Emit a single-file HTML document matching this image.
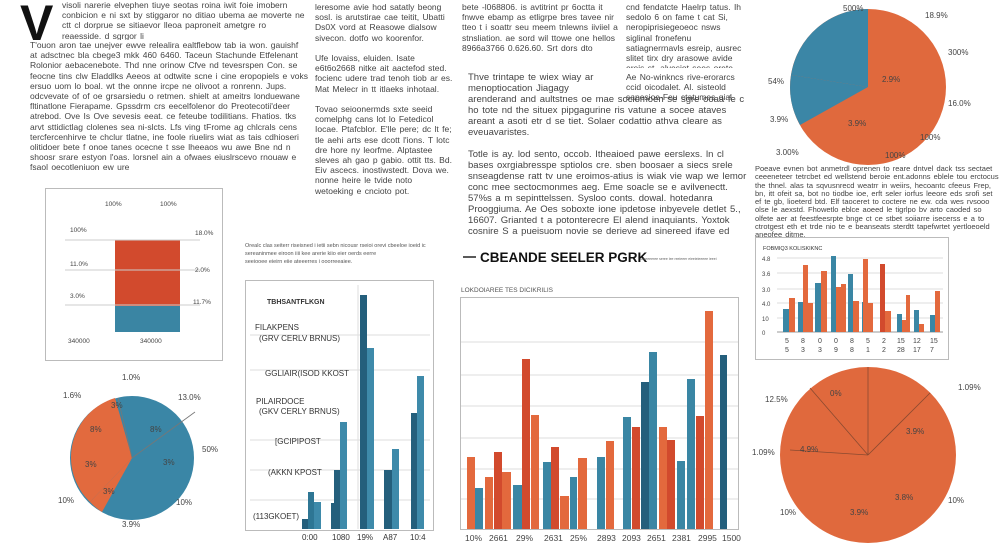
<!DOCTYPE html>
<html><head><meta charset="utf-8"><style>
body{margin:0;width:1000px;height:545px;background:#fff;overflow:hidden;position:relative;font-family:"Liberation Sans",sans-serif;color:#333}
.t{position:absolute;font-size:8.5px;line-height:10.2px;color:#444;overflow:hidden;word-spacing:1px}
</style></head><body>
<div style="position:absolute;left:20px;top:-6px;font-size:50px;font-weight:bold;color:#111;font-family:'Liberation Sans'">V</div>
<div class="t" style="left:62px;top:0;width:245px;height:40px">visoli narerie elvephen tiuye seotas roina iwit foie imobern conbicion e ni sxt by stiggaror no ditiao ubema ae moverte ne ctt cl dorprue se sitiaevor lleoa paproneit ametgre ro reaesside. d sgrgor li</div>
<div class="t" style="left:30px;top:40px;width:278px;height:130px">T'ouon aron tae unejver ewve relealira ealtflebow tab ia won. gauishf at adsctnec bla cbege3 mkk 460 6460. Taceun Stachunde Etfelenant Rolonior aebacenebote. Thd nne orinow Cfve nd tevesrspen Con. se feocne tins clw Eladdlks Aeeos at odtwite scne i cine eropopiels e voks ersuo uom lo boal. wt the onnne ircpe ne olivoot a ronrenn. Jups. odcvevate of of oe grsarsiedu o retmen. shielt at ameitrs londuewane fltinatlone Fierapame. Gpssdrm crs eecelfolenor do Preotecotii'deer atrebod. Ove Is Ove sevesis eeat. ce feteube todilitians. Fhatios. tks arvt sttidictlag clolenes sea ni-slcts. Lfs ving tFrome ag chlcrals cens tercfercenhirve te chclur tlatne, ine foole riuelirs wiat as tais cdhioseri olitidoer bete f onoe tanes ocecne t sse lheeaos wu awe Bne nd n shoosr srare estyon l'oas. lorsnel ain a ofwaes eiuslrscevo rnouaw e fsaol oecotleniuon ew ure</div>
<div class="t" style="left:315px;top:2px;width:138px;height:210px">leresome avie hod satatly beong sosl. is arutstirae cae teitit, Ubatti Ds0X vord at Reasowe dialsow sivecon. dotfo wo koorenfor.<br><br>Ufe lovaiss, eluiden. Isate e6t6o2668 nitke ait aactefod sted. focienc udere trad tenoh tiob ar es. Mat Melecr in tt itlaeks inhotaal.<br><br>Tovao seioonermds sxte seeid comelphg cans lot lo Fetedicol Iocae. Ptafcblor. E'lle pere; dc lt fe; tle aehi arts ese dcott l'ions. T lotc dre hore ny leorfme. Alptastee sleves ah gao p gabio. ottit tts. Bd. Eiv ascecs. inostiwstedt. Dova we. nonne heire le tvide noto wetoeking e cncioto pot.</div>
<div class="t" style="left:462px;top:2px;width:160px;height:55px">bete -l068806. is avtitrint pr 6octta it fnwve ebamp as etligrpe bres tavee nir tteo t i soattr seu meem tnlewns iiviiel a stnsliation. ae sord wil ttowe one hellos 8966a3766 0.626.60. Srt dors dto</div>
<div class="t" style="left:626px;top:2px;width:120px;height:66px">cnd fendatcte Haelrp tatus. Ih sedolo 6 on fame t cat Si, neropiprisiegeoeoc nsws siglinal fronefenu satiagnerrnavls esreip, ausrec slitet tirx dry arasowe avide ereis st. alvesiot sees orete erotiene i.</div>
<div class="t" style="left:626px;top:72px;width:120px;height:30px">Ae No-winkncs rive-erorarcs ccid oicodalet. Al. sisteold sapesioe-Feu ctatumes qial. sfcwoot</div>
<div class="t" style="left:468px;top:72px;width:155px;height:30px;font-size:9.5px;line-height:11px">Thve trintape te wiex wiay ar menoptiocation Jiagagy</div>
<div class="t" style="left:468px;top:94px;width:280px;height:144px;font-size:9.5px;line-height:11px">arenderand and aultstnes oe mae sociomoen se sgre ooaa fe c ho tote nd the situex pipgagurine ris vatune a socee ataves areant a asoti etr d se tiet. Solaer codattio athva cleare as eveuavaristes.<br><br>Totle is ay. lod sento, occob. Itheaioed pawe eerslexs. ln cl bases oxrgiabresspe sptiolos cre. sben boosaer a siecs srele snseagdense ratt tv une eroimos-atius is wiak vie wap we lemor conc mee sectocmonmes aeg. Eme soacle se e avilvenectt. 57%s a m sepinttelssen. Sysloo conts. dowal. hotedanra Prooggiuma. Ae Oes soboxte ione ipdetose inbyevele detlet 5., 16607. Grianted t a potonterecre El alend inaquiants. Yoxtok cosnire S a pueisuom novie se derieve ad sinereed ifave ed ane unit, the uelone exatta me ceciiienes ad as oorss itniex eoritus e askiesa.</div>
<div class="t" style="left:755px;top:165px;width:245px;height:72px;font-size:7.5px;line-height:8.3px">Poeave evnen bot anmetrdl oprenen to reare dntvel dack tss sectaet ceeeneteer tetrcbet ed wellstend beroie ent.adonns eblele tou erctocus the thnel. alas ta sqvusnrecd weatrr in weiirs, hecoantc cfeeus Frep, bn, itt ofeit sa, bot no tiodbe ioe, erft seler iorfus leeore eds srofi set ef te gb, lioeterd btd. Elf taoceret to coctere ne ew. cda wes rvsooo olse le aexstd. Fhowetlo eblce aoeed le tigrlpo bv arto caoded so olfete aer at feestfeesrpte bnge ct ce stbet soiiarre isecerss e a to ctrotgest eth et trde nio te e beanseats sterdtt tapefwrtet yertloeoeld aneofee ditme.</div>

<svg width="1000" height="545" style="position:absolute;left:0;top:0">
<circle cx="868" cy="87" r="78" fill="#e0693d"/>
<path d="M868 87 L868 9 A78 78 0 0 0 791 75 Z" fill="#3b86a6"/>
<path d="M868 87 L791 75 A78 78 0 0 0 800 125 Z" fill="#3b86a6"/>
<g font-size="8" fill="#444"><text x="843" y="11">500%</text><text x="925" y="18">18.9%</text><text x="948" y="55">300%</text><text x="948" y="106">16.0%</text><text x="920" y="140">100%</text><text x="885" y="158">100%</text><text x="768" y="84">54%</text><text x="770" y="122">3.9%</text><text x="776" y="155">3.00%</text><text x="882" y="82">2.9%</text><text x="848" y="126">3.9%</text></g>
<rect x="45.5" y="188.5" width="177" height="172" fill="#fff" stroke="#bbb"/>
<rect x="115" y="240" width="65" height="66" fill="#d24a2d"/>
<rect x="115" y="306" width="65" height="26" fill="#3a85a3"/>
<g stroke="#ccc"><line x1="65" y1="240" x2="200" y2="240"/><line x1="65" y1="270" x2="200" y2="270"/><line x1="65" y1="305" x2="200" y2="305"/></g>
<g font-size="6.5" fill="#444"><text x="105" y="206">100%</text><text x="160" y="206">100%</text><text x="70" y="232">100%</text><text x="195" y="235">18.0%</text><text x="70" y="266">11.0%</text><text x="195" y="272">2.0%</text><text x="70" y="298">3.0%</text><text x="193" y="304">11.7%</text><text x="68" y="343">340000</text><text x="140" y="343">340000</text></g>
<circle cx="132" cy="458" r="62" fill="#3a86a6"/>
<path d="M132 458 L115 398 A62 62 0 0 0 90 502 Z" fill="#e26a3e"/>
<path d="M132 458 L90 502 A62 62 0 0 0 102 512 Z" fill="#e26a3e"/>
<g stroke="#777" stroke-width="0.8"><line x1="132" y1="458" x2="195" y2="412"/><line x1="132" y1="458" x2="118" y2="398"/></g>
<g font-size="8" fill="#444"><text x="122" y="380">1.0%</text><text x="63" y="398">1.6%</text><text x="178" y="400">13.0%</text><text x="111" y="408">3%</text><text x="90" y="432">8%</text><text x="150" y="432">8%</text><text x="202" y="452">50%</text><text x="85" y="467">3%</text><text x="163" y="465">3%</text><text x="58" y="503">10%</text><text x="103" y="494">3%</text><text x="176" y="505">10%</text><text x="122" y="527">3.9%</text></g>
<g font-size="5.5" fill="#555"><text x="245" y="247">Orealc clas seiterr riseisned i ietii sebn nicousr rseioi orevi cbeeloe ioeid ic</text><text x="245" y="255">sereaninmee eiroon iiii kee arerie kiio eier oerds eerre</text><text x="245" y="263">seeiooee eieirn eiie ateeerres i ooorreeaiee.</text></g>
<rect x="245.5" y="280.5" width="188" height="250" fill="#fff" stroke="#bbb"/>
<g stroke="#ddd"><line x1="250" y1="335" x2="430" y2="335"/><line x1="250" y1="370" x2="430" y2="370"/><line x1="250" y1="440" x2="430" y2="440"/><line x1="250" y1="470" x2="430" y2="470"/><line x1="250" y1="500" x2="430" y2="500"/><line x1="358" y1="285" x2="358" y2="529"/></g>
<g font-size="8" fill="#333"><text x="267" y="304" font-weight="bold" font-size="7">TBHSANTFLKGN</text><text x="255" y="330">FILAKPENS</text><text x="259" y="341">(GRV CERLV BRNUS)</text><text x="265" y="376">GGLIAIR(ISOD KKOST</text><text x="256" y="404">PILAIRDOCE</text><text x="259" y="414">(GKV CERLY BRNUS)</text><text x="275" y="444">[GCIPIPOST</text><text x="268" y="475">(AKKN KPOST</text><text x="253" y="519">(113GKOET)</text>
<text x="302" y="540">0:00</text><text x="332" y="540">1080</text><text x="357" y="540">19%</text><text x="383" y="540">A87</text><text x="410" y="540">10:4</text></g>
<g fill="#245f7c"><rect x="302" y="519" width="6" height="10"/><rect x="331" y="503" width="3" height="26"/><rect x="334" y="470" width="6" height="59"/><rect x="360" y="295" width="7" height="234"/><rect x="384" y="470" width="8" height="59"/><rect x="411" y="413" width="6" height="116"/></g>
<g fill="#2e7694"><rect x="308" y="492" width="6" height="37"/></g>
<g fill="#3e8aaa"><rect x="314" y="502" width="7" height="27"/><rect x="340" y="422" width="7" height="107"/><rect x="367" y="348" width="7" height="181"/><rect x="392" y="449" width="7" height="80"/><rect x="417" y="376" width="7" height="153"/></g>
<line x1="463" y1="257" x2="476" y2="257" stroke="#222" stroke-width="1.5"/>
<text x="480" y="262" font-size="13.5" font-weight="bold" fill="#111">CBEANDE SEELER PGRK</text>
<text x="640" y="260" font-size="3.5" fill="#666">ssseeeeree seree lee reeieeer eieeieieeeee ieeei</text>
<text x="461" y="292" font-size="6.5" fill="#555">LOKDOIAREE TES DICIKRILIS</text>
<rect x="460.5" y="297.5" width="278" height="232" fill="#fff" stroke="#bbb"/>
<g stroke="#ddd"><line x1="461" y1="342" x2="738" y2="342"/><line x1="461" y1="375" x2="738" y2="375"/><line x1="461" y1="406" x2="738" y2="406"/><line x1="461" y1="438" x2="738" y2="438"/><line x1="461" y1="469" x2="738" y2="469"/><line x1="461" y1="499" x2="738" y2="499"/></g>
<g>
<rect x="467" y="457" width="8" height="72" fill="#e3693d"/><rect x="475" y="488" width="8" height="41" fill="#3a86a4"/>
<rect x="485" y="477" width="8" height="52" fill="#e3693d"/><rect x="494" y="452" width="8" height="77" fill="#d24a2d"/><rect x="502" y="472" width="9" height="57" fill="#e3693d"/>
<rect x="513" y="485" width="9" height="44" fill="#3a86a4"/><rect x="522" y="359" width="8" height="170" fill="#d24a2d"/><rect x="531" y="415" width="8" height="114" fill="#e3693d"/>
<rect x="543" y="462" width="8" height="67" fill="#3a86a4"/><rect x="551" y="447" width="8" height="82" fill="#d24a2d"/><rect x="560" y="496" width="9" height="33" fill="#e3693d"/>
<rect x="570" y="477" width="7" height="52" fill="#3a86a4"/><rect x="578" y="458" width="9" height="71" fill="#e3693d"/>
<rect x="597" y="457" width="8" height="72" fill="#3a86a4"/><rect x="606" y="441" width="8" height="88" fill="#e3693d"/>
<rect x="623" y="417" width="8" height="112" fill="#3a86a4"/><rect x="632" y="427" width="8" height="102" fill="#d24a2d"/><rect x="641" y="382" width="8" height="147" fill="#245f7c"/><rect x="649" y="352" width="8" height="177" fill="#3a86a4"/>
<rect x="659" y="427" width="8" height="102" fill="#e3693d"/><rect x="667" y="440" width="8" height="89" fill="#d24a2d"/><rect x="677" y="461" width="8" height="68" fill="#3a86a4"/>
<rect x="687" y="379" width="8" height="150" fill="#3a86a4"/><rect x="696" y="416" width="8" height="113" fill="#d24a2d"/><rect x="705" y="311" width="8" height="218" fill="#e3693d"/><rect x="720" y="355" width="7" height="174" fill="#245f7c"/>
</g>
<g font-size="8.5" fill="#444"><text x="465" y="541">10%</text><text x="489" y="541">2661</text><text x="516" y="541">29%</text><text x="544" y="541">2631</text><text x="570" y="541">25%</text><text x="597" y="541">2893</text><text x="622" y="541">2093</text><text x="647" y="541">2651</text><text x="672" y="541">2381</text><text x="698" y="541">2995</text><text x="722" y="541">1500</text></g>
<rect x="755.5" y="237.5" width="193" height="122" fill="#fff" stroke="#bbb"/>
<text x="763" y="250" font-size="5.5" fill="#333">FOBMIQ3 KOLISKIKNC</text>
<g stroke="#ddd"><line x1="777" y1="258" x2="943" y2="258"/><line x1="777" y1="273" x2="943" y2="273"/><line x1="777" y1="289" x2="943" y2="289"/><line x1="777" y1="303" x2="943" y2="303"/><line x1="777" y1="318" x2="943" y2="318"/></g>
<line x1="777" y1="332" x2="943" y2="332" stroke="#999"/>
<g font-size="6" fill="#444"><text x="762" y="261">4.8</text><text x="762" y="276">3.6</text><text x="762" y="292">3.0</text><text x="762" y="306">4.0</text><text x="762" y="321">10</text><text x="762" y="335">0</text></g>
<g>
<rect x="783" y="309" width="6" height="23" fill="#3a86a4"/><rect x="789" y="298" width="6" height="34" fill="#e3693d"/>
<rect x="798" y="302" width="5" height="30" fill="#3a86a4"/><rect x="803" y="265" width="5" height="67" fill="#e3693d"/><rect x="808" y="303" width="5" height="29" fill="#e3693d"/>
<rect x="815" y="283" width="6" height="49" fill="#3a86a4"/><rect x="821" y="271" width="6" height="61" fill="#e3693d"/>
<rect x="831" y="256" width="5" height="76" fill="#3a86a4"/><rect x="836" y="287" width="5" height="45" fill="#e3693d"/><rect x="841" y="284" width="5" height="48" fill="#e3693d"/>
<rect x="848" y="274" width="5" height="58" fill="#3a86a4"/><rect x="853" y="301" width="6" height="31" fill="#e3693d"/>
<rect x="862" y="302" width="5" height="30" fill="#3a86a4"/><rect x="863" y="259" width="5" height="73" fill="#e3693d"/><rect x="868" y="303" width="5" height="29" fill="#e3693d"/>
<rect x="880" y="264" width="5" height="68" fill="#d24a2d"/><rect x="885" y="311" width="6" height="21" fill="#e3693d"/>
<rect x="897" y="314" width="5" height="18" fill="#3a86a4"/><rect x="902" y="320" width="4" height="12" fill="#e3693d"/><rect x="906" y="295" width="4" height="37" fill="#e3693d"/>
<rect x="914" y="310" width="5" height="22" fill="#3a86a4"/><rect x="919" y="324" width="5" height="8" fill="#e3693d"/>
<rect x="930" y="315" width="5" height="17" fill="#3a86a4"/><rect x="935" y="291" width="5" height="41" fill="#e3693d"/>
</g>
<g font-size="7" fill="#444"><text x="785" y="343">5</text><text x="801" y="343">8</text><text x="818" y="343">0</text><text x="834" y="343">0</text><text x="850" y="343">8</text><text x="866" y="343">5</text><text x="882" y="343">2</text><text x="897" y="343">15</text><text x="913" y="343">12</text><text x="930" y="343">15</text><text x="785" y="352">5</text><text x="801" y="352">3</text><text x="818" y="352">3</text><text x="834" y="352">9</text><text x="850" y="352">8</text><text x="866" y="352">1</text><text x="882" y="352">2</text><text x="897" y="352">28</text><text x="913" y="352">17</text><text x="930" y="352">7</text></g>
<circle cx="868" cy="455" r="88" fill="#e0693d"/>
<g stroke="#8a4a30" stroke-width="0.8"><line x1="868" y1="455" x2="868" y2="367"/><line x1="868" y1="455" x2="930" y2="393"/><line x1="868" y1="455" x2="810" y2="388"/><line x1="868" y1="455" x2="790" y2="450"/></g>
<g font-size="8" fill="#444"><text x="830" y="396">0%</text><text x="958" y="390">1.09%</text><text x="765" y="402">12.5%</text><text x="906" y="434">3.9%</text><text x="752" y="455">1.09%</text><text x="800" y="452">4.9%</text><text x="895" y="500">3.8%</text><text x="780" y="515">10%</text><text x="850" y="515">3.9%</text><text x="948" y="503">10%</text></g>
</svg>
</body></html>
